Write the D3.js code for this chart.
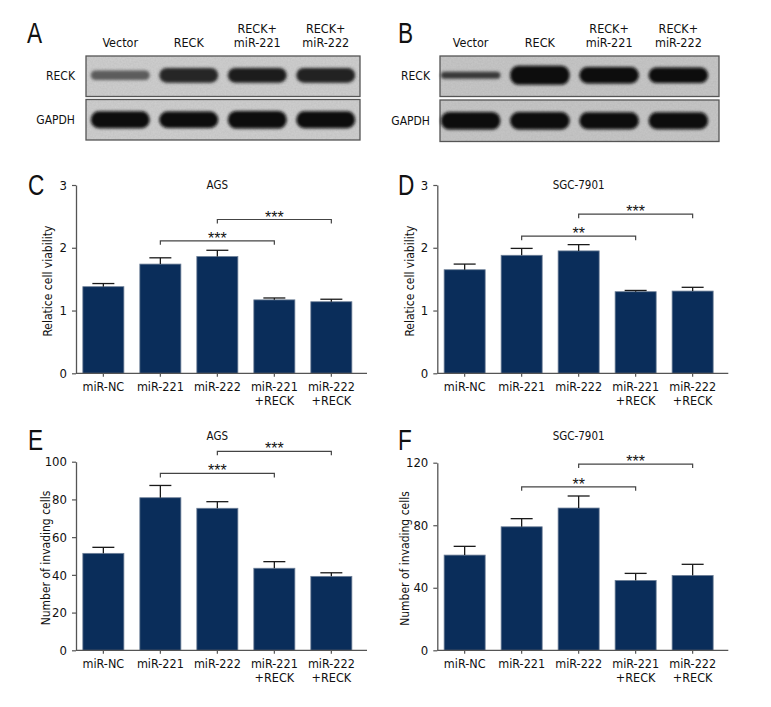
<!DOCTYPE html>
<html>
<head>
<meta charset="utf-8">
<script src="https://cdn.jsdelivr.net/npm/d3@7/dist/d3.min.js"></script>
<style>
  html, body { margin: 0; padding: 0; background: #fff; }
  svg { display: block; }
  text { font-family: "Liberation Sans Narrow", "DejaVu Sans Condensed", "Arial Narrow", sans-serif; fill: #111; }
</style>
</head>
<body>
<svg id="chart" width="771" height="707"></svg>
<script>
// ---------------- DATA ----------------
const lanes = ["Vector", "RECK", "RECK+\nmiR-221", "RECK+\nmiR-222"];
const blotRows = ["RECK", "GAPDH"];
// relative band strength (thickness) and density (darkness) per lane
const blotA_RECK_level = [0.45, 0.75, 0.75, 0.75];
const blotA_RECK_density = [0.55, 0.85, 0.88, 0.86];
const blotA_GAPDH_level = [0.88, 0.85, 0.92, 0.88];
const blotA_GAPDH_density = [1, 1, 1, 1];
const blotB_RECK_level = [0.3, 1.0, 0.85, 0.8];
const blotB_RECK_density = [0.75, 1, 1, 1];
const blotB_GAPDH_level = [0.92, 0.9, 0.88, 0.88];
const blotB_GAPDH_density = [1, 1, 1, 1];

const categories = ["miR-NC", "miR-221", "miR-222", "miR-221\n+RECK", "miR-222\n+RECK"];

const viabilityAGS = [1.38, 1.74, 1.86, 1.17, 1.14];
const viabilityAGS_err = [0.05, 0.10, 0.10, 0.03, 0.04];
const viabilitySGC = [1.65, 1.88, 1.95, 1.30, 1.31];
const viabilitySGC_err = [0.09, 0.11, 0.10, 0.02, 0.06];

const invasionAGS = [51.4, 80.9, 75.3, 43.5, 39.2];
const invasionAGS_err = [3.2, 6.5, 3.5, 3.5, 1.9];
const invasionSGC = [60.9, 79.0, 91.0, 44.7, 47.9];
const invasionSGC_err = [5.6, 5.2, 7.7, 4.5, 7.1];

const viabilityTicks = [0, 1, 2, 3];
const invasionAGSTicks = [0, 20, 40, 60, 80, 100];
const invasionSGCTicks = [0, 40, 80, 120];

// significance brackets: [fromIndex, toIndex, label, level (in data units)]
const sigC = [[1, 3, "***", 2.11], [2, 4, "***", 2.45]];
const sigD = [[1, 3, "**", 2.185], [2, 4, "***", 2.535]];
const sigE = [[1, 3, "***", 93.8], [2, 4, "***", 105.5]];
const sigF = [[1, 3, "**", 104.6], [2, 4, "***", 119.1]];

// ---------------- DRAW ----------------
const svg = d3.select("#chart");
svg.append("rect").attr("width", 771).attr("height", 707).attr("fill", "#fff");

const defs = svg.append("defs");
const blur = defs.append("filter").attr("id", "bandBlur")
  .attr("x", "-20%").attr("y", "-60%").attr("width", "140%").attr("height", "220%");
blur.append("feGaussianBlur").attr("stdDeviation", "1.6 1.8");

const grain = defs.append("filter").attr("id", "grain")
  .attr("x", 0).attr("y", 0).attr("width", "100%").attr("height", "100%");
grain.append("feTurbulence").attr("type", "fractalNoise").attr("baseFrequency", 0.6)
  .attr("numOctaves", 2).attr("seed", 3).attr("result", "n");
grain.append("feColorMatrix").attr("in", "n").attr("type", "matrix")
  .attr("values", "0 0 0 0 0  0 0 0 0 0  0 0 0 0 0  0 0 0 0.07 0");

const FONT = '"Liberation Sans Narrow", "DejaVu Sans Condensed", "Arial Narrow", sans-serif';

function multiline(sel, label, lineH) {
  const parts = label.split("\n");
  parts.forEach((p, i) => {
    sel.append("tspan").attr("x", sel.attr("x")).attr("dy", i === 0 ? 0 : lineH).text(p);
  });
}

function panelLetter(x, y, letter) {
  svg.append("text").attr("transform", `translate(${x},${y}) scale(0.78,1)`)
    .attr("font-size", 29).style("font-family", '"Liberation Sans", Arial, sans-serif')
    .text(letter);
}

// Western blot panel
function blotPanel(cfg) {
  const g = svg.append("g");
  const lx = d3.scaleBand().domain(lanes).range(cfg.laneRange);
  const thick = d3.scaleLinear().domain([0, 1]).range([2, 19]);
  const shade = d3.scaleLinear().domain([0, 1]).range(["#bdbdbd", "#0a0a0a"]);

  lanes.forEach(l => {
    const t = g.append("text").attr("x", lx(l) + lx.bandwidth() / 2)
      .attr("text-anchor", "middle").attr("font-size", 12.5);
    const parts = l.split("\n");
    if (parts.length === 1) { t.attr("y", 47).text(parts[0]); }
    else { t.attr("y", 33); multiline(t, l, 14); }
  });

  cfg.rows.forEach((row, ri) => {
    const [y0, y1] = cfg.boxY[ri];
    const W = cfg.boxX[1] - cfg.boxX[0];
    g.append("rect").attr("x", cfg.boxX[0]).attr("y", y0).attr("width", W).attr("height", y1 - y0)
      .attr("fill", cfg.bg);
    g.append("rect").attr("x", cfg.boxX[0]).attr("y", y0).attr("width", W).attr("height", y1 - y0)
      .attr("fill", "#fff").attr("filter", "url(#grain)");
    g.append("rect").attr("x", cfg.boxX[0]).attr("y", y0).attr("width", W).attr("height", y1 - y0)
      .attr("fill", "none").attr("stroke", "#555").attr("stroke-width", 1.3);

    g.append("text").attr("x", cfg.labelRight).attr("y", (y0 + y1) / 2 + 4)
      .attr("text-anchor", "end").attr("font-size", 12).text(blotRows[ri]);

    const cy = (y0 + y1) / 2 + (ri === 0 ? -1 : 0);
    lanes.forEach((l, i) => {
      const h = thick(row.level[i]);
      const w = lx.bandwidth() * 0.86;
      g.append("rect")
        .attr("x", lx(l) + (lx.bandwidth() - w) / 2)
        .attr("y", cy - h / 2)
        .attr("width", w).attr("height", h)
        .attr("rx", Math.min(h / 2, 8)).attr("ry", h / 2)
        .attr("fill", shade(row.density[i]))
        .attr("filter", "url(#bandBlur)");
    });
  });
}

blotPanel({
  laneRange: [86, 360], boxX: [86, 360], boxY: [[56, 96.5], [99.5, 140]],
  labelRight: 75, bg: "#d0d0d0",
  rows: [{ level: blotA_RECK_level, density: blotA_RECK_density },
         { level: blotA_GAPDH_level, density: blotA_GAPDH_density }]
});
blotPanel({
  laneRange: [436, 713], boxX: [440, 719], boxY: [[56, 96.5], [100, 141.5]],
  labelRight: 430, bg: "#c8c8c8",
  rows: [{ level: blotB_RECK_level, density: blotB_RECK_density },
         { level: blotB_GAPDH_level, density: blotB_GAPDH_density }]
});
panelLetter(27, 43, "A");
panelLetter(398, 43, "B");

// Bar chart panel
function barPanel(cfg) {
  const g = svg.append("g");
  const y = d3.scaleLinear().domain([0, cfg.ymax]).range([cfg.y0, cfg.yTop]);
  const x = d3.scaleBand().domain(categories)
    .range([cfg.x0, cfg.x0 + 282.7]).paddingInner(0.28).paddingOuter(0.12);
  const bw = x.bandwidth();
  const axisColor = "#555";

  g.selectAll("rect.bar").data(cfg.values).join("rect").attr("class", "bar")
    .attr("x", (d, i) => x(categories[i]))
    .attr("y", d => y(d))
    .attr("width", bw)
    .attr("height", d => y(0) - y(d))
    .attr("fill", "#0a2d5a")
    .attr("stroke", "#6d7f97").attr("stroke-width", 0.8);

  cfg.values.forEach((v, i) => {
    const cx = x(categories[i]) + bw / 2;
    g.append("line").attr("x1", cx).attr("x2", cx).attr("y1", y(v)).attr("y2", y(v + cfg.err[i]))
      .attr("stroke", "#1a1a1a").attr("stroke-width", 1.3);
    g.append("line").attr("x1", cx - 11).attr("x2", cx + 11)
      .attr("y1", y(v + cfg.err[i])).attr("y2", y(v + cfg.err[i]))
      .attr("stroke", "#1a1a1a").attr("stroke-width", 1.3);
  });

  const ya = g.append("g").attr("transform", `translate(${cfg.x0},0)`)
    .call(d3.axisLeft(y).tickValues(cfg.ticks).tickFormat(d3.format("d"))
      .tickSize(4).tickSizeOuter(0).tickPadding(5));
  ya.select(".domain").attr("stroke", axisColor).attr("stroke-width", 1.3);
  ya.selectAll(".tick line").attr("stroke", axisColor).attr("stroke-width", 1.2);
  ya.selectAll(".tick text").attr("font-size", 13).style("font-family", FONT).attr("fill", "#111");

  g.append("line").attr("x1", cfg.x0).attr("x2", cfg.x0 + 291).attr("y1", cfg.y0).attr("y2", cfg.y0)
    .attr("stroke", axisColor).attr("stroke-width", 1.3);
  categories.forEach(c => {
    const cx = x(c) + bw / 2;
    g.append("line").attr("x1", cx).attr("x2", cx).attr("y1", cfg.y0).attr("y2", cfg.y0 + 3.5)
      .attr("stroke", axisColor).attr("stroke-width", 1.2);
    const t = g.append("text").attr("x", cx).attr("y", cfg.y0 + 18)
      .attr("text-anchor", "middle").attr("font-size", 12.5);
    multiline(t, c, 14);
  });

  g.append("text")
    .attr("transform", `translate(${cfg.ylabelX},${(cfg.y0 + cfg.yTop) / 2 + 2}) rotate(-90)`)
    .attr("text-anchor", "middle").attr("font-size", 12).text(cfg.ylabel);

  g.append("text").attr("x", x(categories[2]) + bw / 2).attr("y", cfg.titleY)
    .attr("text-anchor", "middle").attr("font-size", 11.5).text(cfg.title);

  cfg.sig.forEach(([a, b, lab, lev]) => {
    const xa = x(categories[a]) + bw / 2, xb = x(categories[b]) + bw / 2, yy = y(lev);
    g.append("path").attr("d", `M${xa},${yy + 4}V${yy}H${xb}V${yy + 4}`)
      .attr("fill", "none").attr("stroke", "#444").attr("stroke-width", 1.2);
    g.append("text").attr("x", (xa + xb) / 2).attr("y", yy + 3)
      .attr("text-anchor", "middle").attr("font-size", 16)
      .style("font-family", '"Liberation Sans", Arial, sans-serif').attr("fill", "#555")
      .text(lab);
  });

  panelLetter(cfg.letterX, cfg.letterY, cfg.letter);
}

barPanel({ x0: 76, y0: 373.3, yTop: 185, ymax: 3, ticks: viabilityTicks,
  values: viabilityAGS, err: viabilityAGS_err, sig: sigC,
  ylabel: "Relatice cell viability", ylabelX: 52, title: "AGS", titleY: 189,
  letter: "C", letterX: 28, letterY: 195 });
barPanel({ x0: 437.3, y0: 373.3, yTop: 185, ymax: 3, ticks: viabilityTicks,
  values: viabilitySGC, err: viabilitySGC_err, sig: sigD,
  ylabel: "Relatice cell viability", ylabelX: 413.5, title: "SGC-7901", titleY: 189,
  letter: "D", letterX: 398, letterY: 195 });
barPanel({ x0: 76, y0: 650.3, yTop: 461.7, ymax: 100, ticks: invasionAGSTicks,
  values: invasionAGS, err: invasionAGS_err, sig: sigE,
  ylabel: "Number of invading cells", ylabelX: 50, title: "AGS", titleY: 440,
  letter: "E", letterX: 28, letterY: 450 });
barPanel({ x0: 437.3, y0: 650.3, yTop: 462.7, ymax: 120, ticks: invasionSGCTicks,
  values: invasionSGC, err: invasionSGC_err, sig: sigF,
  ylabel: "Number of invading cells", ylabelX: 409, title: "SGC-7901", titleY: 440,
  letter: "F", letterX: 398, letterY: 450 });
</script>
</body>
</html>
